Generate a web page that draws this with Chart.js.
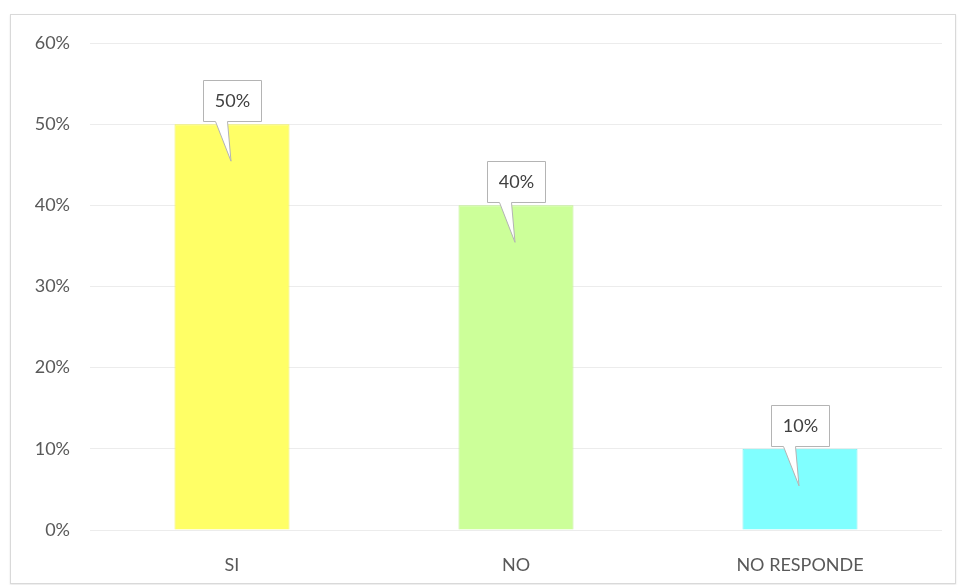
<!DOCTYPE html>
<html>
<head>
<meta charset="utf-8">
<script src="https://cdn.jsdelivr.net/npm/chart.js@4/dist/chart.umd.min.js"></script>
<style>
    html, body { margin: 0; padding: 0; background: #fff; }
    #wrap { position: relative; width: 960px; height: 585px; overflow: hidden; }
    #frame {
        position: absolute; left: 10px; top: 14px; width: 944px; height: 568px;
        border: 1px solid #d9d9d9; box-shadow: 0 1px 2px #e6e6e6;
    }
    canvas { position: absolute; left: 0; top: 0; }
</style>
</head>
<body>
<div id="wrap">
    <div id="frame"></div>
    <canvas id="chart" width="960" height="585"></canvas>
</div>
<script>
const categories = ["SI", "NO", "NO RESPONDE"];
const values = [50, 40, 10];
const barColors = ["#ffff66", "#ccff99", "#80ffff"];
const barBorders = ["#f2f25a", "#bfef8e", "#72f2f2"];
const yTicks = [0, 10, 20, 30, 40, 50, 60];

const FONT = "Lato, 'Open Sans', sans-serif";

// callout boxes with a pointer into the bar, like the Excel labels
const calloutPlugin = {
    id: "callouts",
    afterDatasetsDraw(chart) {
        const ctx = chart.ctx;
        const meta = chart.getDatasetMeta(0);
        meta.data.forEach((bar, i) => {
            const w = 58, h = 41;
            const left = Math.round(bar.x - w / 2) + 0.5;
            const bottom = Math.round(bar.y - 3) + 0.5;
            const top = bottom - h;
            const tipX = bar.x - 1;
            const tipY = bar.y + 37;

            ctx.save();
            ctx.beginPath();
            ctx.moveTo(left, top);
            ctx.lineTo(left + w, top);
            ctx.lineTo(left + w, bottom);
            ctx.lineTo(left + 24, bottom);
            ctx.lineTo(tipX, tipY);
            ctx.lineTo(left + 12, bottom);
            ctx.lineTo(left, bottom);
            ctx.closePath();
            ctx.fillStyle = "#ffffff";
            ctx.fill();
            ctx.strokeStyle = "#b4b4b4";
            ctx.lineWidth = 1;
            ctx.stroke();

            ctx.fillStyle = "#404040";
            ctx.font = "18px " + FONT;
            ctx.textAlign = "center";
            ctx.textBaseline = "middle";
            ctx.fillText(values[i] + "%", left + w / 2, top + h / 2);
            ctx.restore();
        });
    }
};

new Chart(document.getElementById("chart"), {
    type: "bar",
    data: {
        labels: categories,
        datasets: [{
            data: values,
            backgroundColor: barColors,
            borderColor: barBorders,
            borderWidth: 1,
            barPercentage: 0.405,
            categoryPercentage: 1
        }]
    },
    options: {
        responsive: false,
        animation: false,
        layout: { padding: { top: 43, right: 18, bottom: 0, left: 0 } },
        plugins: {
            legend: { display: false },
            tooltip: { enabled: false }
        },
        scales: {
            x: {
                grid: { display: false, drawTicks: false },
                border: { display: false },
                ticks: { color: "#595959", padding: 24, font: { family: FONT, size: 18 } },
                afterFit: (scale) => { scale.height = 55; }
            },
            y: {
                min: 0,
                max: 60,
                afterBuildTicks: (scale) => { scale.ticks = yTicks.map(v => ({ value: v })); },
                grid: { color: "#ececec", drawTicks: false },
                border: { display: false },
                ticks: {
                    color: "#595959",
                    padding: 20,
                    font: { family: FONT, size: 18 },
                    callback: (v) => v + "%"
                },
                afterFit: (scale) => { scale.width = 90; }
            }
        }
    },
    plugins: [calloutPlugin]
});
</script>
</body>
</html>
